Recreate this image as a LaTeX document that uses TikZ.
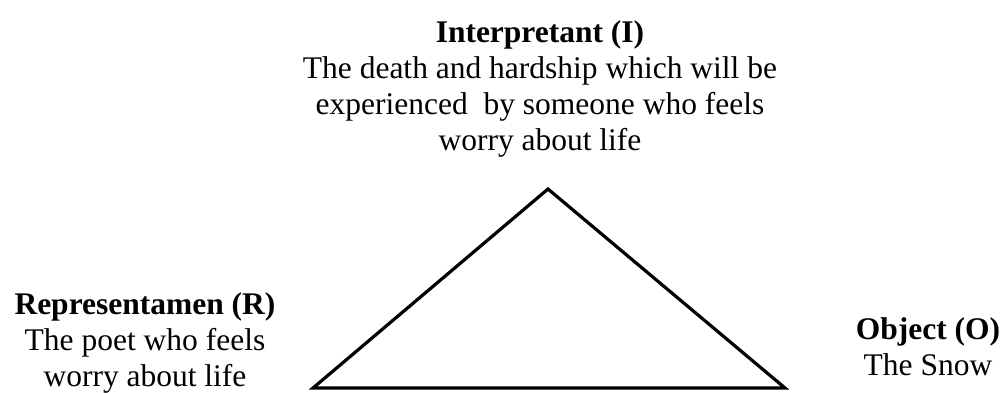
\documentclass[tikz,border=0pt]{standalone}
\usepackage{fontspec}
\setmainfont{Liberation Serif}
\usetikzlibrary{positioning}
\tikzset{
  signlabel/.style={anchor=base, align=center, inner sep=0pt,
    font=\fontsize{15.75}{18}\selectfont},
  triline/.style={line width=1.6pt, line join=miter}
}

\begin{document}
\begin{tikzpicture}[x=0.5pt,y=-0.5pt]
        \useasboundingbox (0,0) rectangle (1006,392);
        % base of a multi-line node = last line
        \node[signlabel] (interp) at (540,150)
          {\textbf{Interpretant (I)}\\The death and hardship which will be\\
           experienced~ by someone who feels\\worry about life};
        \node[signlabel] (repr) at (145,386)
          {\textbf{Representamen (R)}\\The poet who feels\\worry about life};
        \node[signlabel] (obj) at (928,375)
          {\textbf{Object (O)}\\The Snow};
        \coordinate (apex) at (548,189);
        \coordinate (left) at (313,388);
        \coordinate (right) at (785,388);
        \draw[triline] (apex) -- (right) -- (left) -- cycle;
      \end{tikzpicture}
\end{document}
